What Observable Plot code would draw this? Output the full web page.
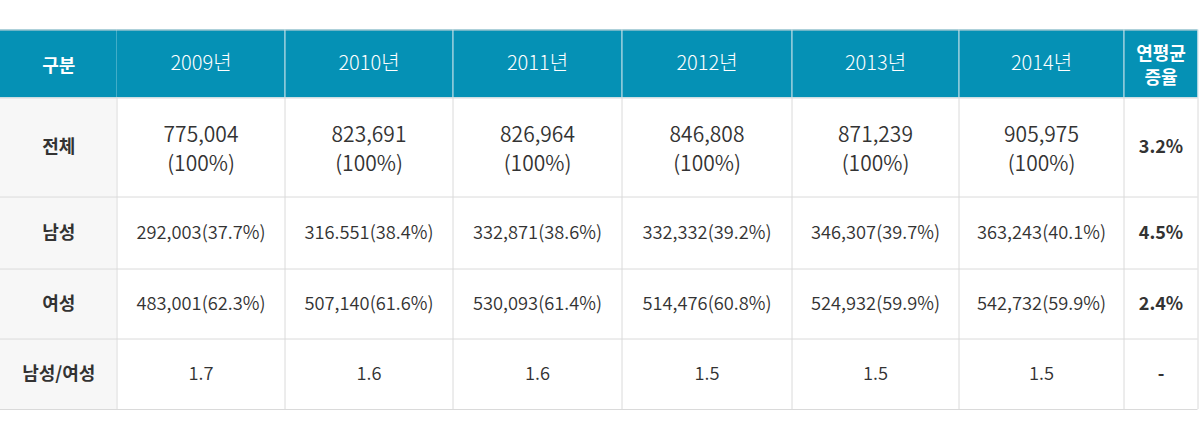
<!DOCTYPE html>
<html><head><meta charset="utf-8">
<script src="https://cdn.jsdelivr.net/npm/d3@7"></script>
<script src="https://cdn.jsdelivr.net/npm/@observablehq/plot@0.6"></script>
<style>
html,body{margin:0;padding:0;background:#fff;}
svg{display:block;}
</style></head>
<body><div id="chart"></div>
<script>
// ---- data ----
const headers = ["구분", "2009년", "2010년", "2011년", "2012년", "2013년", "2014년", "연평균\n증율"];
const rowLabels = ["전체", "남성", "여성", "남성/여성"];
const totals = ["775,004\n(100%)", "823,691\n(100%)", "826,964\n(100%)", "846,808\n(100%)", "871,239\n(100%)", "905,975\n(100%)"];
const males = ["292,003(37.7%)", "316.551(38.4%)", "332,871(38.6%)", "332,332(39.2%)", "346,307(39.7%)", "363,243(40.1%)"];
const females = ["483,001(62.3%)", "507,140(61.6%)", "530,093(61.4%)", "514,476(60.8%)", "524,932(59.9%)", "542,732(59.9%)"];
const ratios = ["1.7", "1.6", "1.6", "1.5", "1.5", "1.5"];
const growth = ["3.2%", "4.5%", "2.4%", "-"];

// ---- layout ----
const W = 1200, H = 439;
const colEdges = [0, 116.5, 284.5, 452.5, 621.5, 791.5, 958.5, 1123.5, 1197.5];
const rowEdges = [29.5, 97.5, 196.5, 268.5, 338.5, 409];
const FONT = "'Noto Sans CJK KR', 'Noto Sans', sans-serif";

const nCols = headers.length;
const body = [totals, males, females, ratios];

// build cell table
const cells = [];
headers.forEach((h, c) => cells.push({r: 0, c, text: h, kind: (c === 0 || c === nCols - 1) ? "headBold" : "head"}));
rowLabels.forEach((lab, i) => {
  const r = i + 1;
  cells.push({r, c: 0, text: lab, kind: "label"});
  body[i].forEach((v, j) => cells.push({r, c: j + 1, text: v, kind: r === 1 ? "valueBig" : "value"}));
  cells.push({r, c: nCols - 1, text: growth[i], kind: "growth"});
});
cells.forEach(d => {
  d.x1 = colEdges[d.c]; d.x2 = colEdges[d.c + 1];
  d.y1 = rowEdges[d.r]; d.y2 = rowEdges[d.r + 1];
  d.xm = (d.x1 + d.x2) / 2; d.ym = (d.y1 + d.y2) / 2;
});

// grid lines
const hLines = rowEdges.map((y, i) => ({y, i}));
const vLines = colEdges.slice(1).map((x, i) => ({x, c: i + 1}));

const fill = d => d.r === 0 ? "#0591b5" : d.kind === "label" ? "#f7f7f7" : "#ffffff";
const of = k => cells.filter(d => d.kind === k);

const chart = Plot.plot({
  width: W, height: H,
  margin: 0,
  x: {type: "linear", domain: [0, W], range: [0, W], axis: null},
  y: {type: "linear", domain: [0, H], range: [0, H], axis: null},
  style: {fontFamily: FONT, background: "#fff"},
  marks: [
    Plot.rect(cells, {x1: "x1", x2: "x2", y1: "y1", y2: "y2", fill: d => fill(d)}),
    Plot.ruleX(vLines, {x: "x", y1: rowEdges[1], y2: rowEdges[rowEdges.length - 1], stroke: "#dadada", strokeWidth: 1}),
    Plot.ruleX(vLines.filter(d => d.c > 1), {x: "x", y1: rowEdges[0], y2: rowEdges[1], stroke: "#cfe3ea", strokeWidth: 1}),
    Plot.ruleY(hLines, {y: "y", x1: 0, x2: colEdges[colEdges.length - 1], stroke: "#dadada", strokeWidth: 1}),
    Plot.text(of("head"), {x: "xm", y: "ym", text: "text", fill: "#fff", fontSize: 20, fontWeight: 300}),
    Plot.text(of("headBold"), {x: "xm", y: "ym", text: "text", fill: "#fff", fontSize: 18, fontWeight: "bold", lineHeight: 1.35}),
    Plot.text(of("label"), {x: "xm", y: "ym", text: "text", fill: "#333", fontSize: 18, fontWeight: "bold"}),
    Plot.text(of("valueBig"), {x: "xm", y: "ym", text: "text", fill: "#333", fontSize: 21, lineHeight: 1.35, fontWeight: 350}),
    Plot.text(of("value"), {x: "xm", y: "ym", text: "text", fill: "#333", fontSize: 18.3, fontWeight: 350}),
    Plot.text(of("growth"), {x: "xm", y: "ym", text: "text", fill: "#333", fontSize: 18, fontWeight: "bold"})
  ]
});
document.getElementById("chart").append(chart);
</script></body></html>
